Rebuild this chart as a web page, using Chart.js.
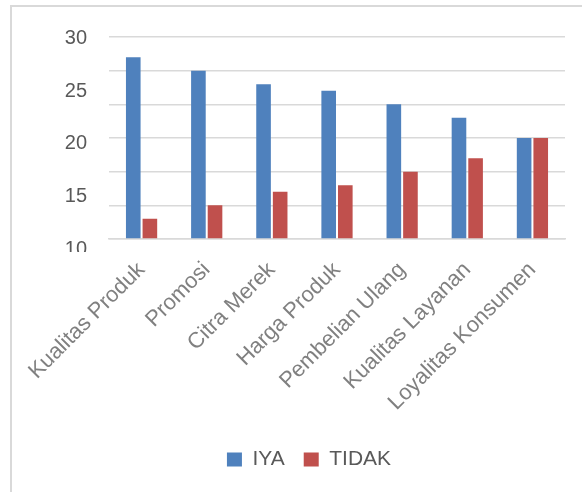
<!DOCTYPE html>
<html>
<head>
<meta charset="utf-8">
<script src="https://cdn.jsdelivr.net/npm/chart.js@4"></script>
<style>
  html, body { margin: 0; padding: 0; background: #fff; }
  #wrap { position: relative; width: 582px; height: 492px; overflow: hidden; }
  #frame { position: absolute; left: 10px; top: 5px; width: 600px; height: 520px;
           border-left: 2px solid #d9d9d9; border-top: 2px solid #d9d9d9; }
  canvas { position: absolute; left: 0; top: 0; }
</style>
</head>
<body>
<div id="wrap">
  <div id="frame"></div>
  <canvas id="chart" width="582" height="492"></canvas>
</div>
<script>
// data
const categories = ["Kualitas Produk", "Promosi", "Citra Merek", "Harga Produk",
                    "Pembelian Ulang", "Kualitas Layanan", "Loyalitas Konsumen"];
const iyaValues = [27, 25, 23, 22, 20, 18, 15];
const tidakValues = [3, 5, 7, 8, 10, 12, 15];
const yTickLabels = [30, 25, 20, 15, 10];

const fontName = "'Liberation Sans', Arial, sans-serif";

// the lowest tick label is cut in half in the picture
const cutLabel = {
    id: "cutLabel",
    beforeDraw(chart) {
        const a = chart.chartArea;
        const c = chart.ctx;
        c.save();
        c.beginPath();
        c.rect(0, 0, chart.width, chart.height);
        c.rect(0, a.bottom + 13, a.left - 10, 25);
        c.clip("evenodd");
    },
    afterDraw(chart) {
        chart.ctx.restore();
    }
};

const ctx = document.getElementById("chart").getContext("2d");

new Chart(ctx, {
    type: "bar",
    data: {
        labels: categories,
        datasets: [
            { label: "IYA", data: iyaValues, backgroundColor: "#4f81bd", yAxisID: "y" },
            { label: "TIDAK", data: tidakValues, backgroundColor: "#c0504d", yAxisID: "y" }
        ]
    },
    plugins: [cutLabel],
    options: {
        responsive: false,
        animation: false,
        devicePixelRatio: 1,
        categoryPercentage: 0.51,
        barPercentage: 0.88,
        layout: { padding: { top: 37, right: 17, bottom: 12, left: 53 } },
        plugins: {
            tooltip: { enabled: false },
            legend: {
                position: "bottom",
                labels: {
                    boxWidth: 15,
                    boxHeight: 14,
                    padding: 19,
                    color: "#595959",
                    font: { family: fontName, size: 21 }
                }
            }
        },
        scales: {
            x: {
                grid: { display: false },
                border: { display: true, color: "#d9d9d9", width: 1.5 },
                ticks: {
                    minRotation: 45,
                    maxRotation: 45,
                    autoSkip: false,
                    padding: 10,
                    color: "#808080",
                    font: { family: fontName, size: 22 }
                },
                afterFit: (scale) => {
                    scale.height = 191;
                    scale.paddingLeft = 0;
                    scale.paddingRight = 0;
                }
            },
            // the tick labels of the picture sit on their own spacing
            yLabels: {
                type: "linear",
                position: "left",
                min: 11,
                max: 30.12,
                grid: { display: false, drawTicks: false },
                border: { display: false },
                ticks: {
                    autoSkip: false,
                    padding: 22,
                    color: "#595959",
                    font: { family: fontName, size: 20 }
                },
                afterBuildTicks: (scale) => {
                    scale.ticks = yTickLabels.map(v => ({ value: v }));
                },
                afterFit: (scale) => { scale.width = 56; }
            },
            y: {
                position: "left",
                min: 0,
                max: 30,
                grid: { color: "#d9d9d9", lineWidth: 1.5, drawTicks: false },
                border: { display: false },
                ticks: { display: false, stepSize: 5 },
                afterFit: (scale) => { scale.width = 0; }
            }
        }
    }
});
</script>
</body>
</html>
